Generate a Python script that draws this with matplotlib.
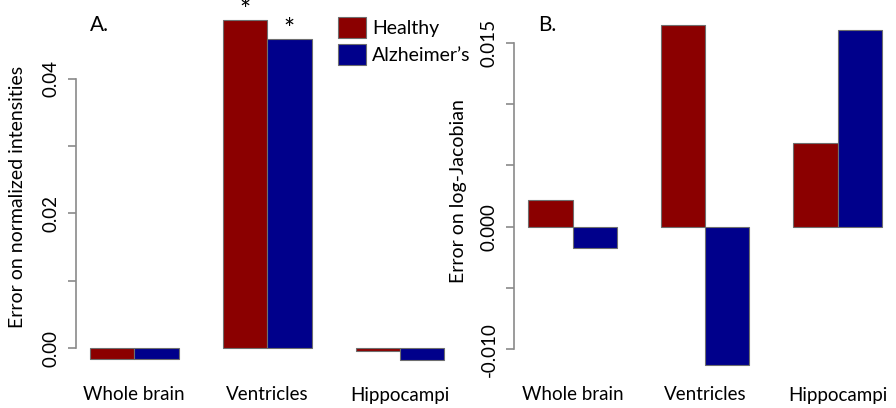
import numpy as np
import matplotlib
matplotlib.use("Agg")
import matplotlib.pyplot as plt
from matplotlib.patches import Patch
from matplotlib.transforms import blended_transform_factory

plt.rcParams['font.family'] = ['Lato', 'DejaVu Sans']

regions = ["Whole brain", "Ventricles", "Hippocampi"]
groups = ["Healthy", "Alzheimer\u2019s"]
a_healthy = [-0.0017, 0.0487, -0.0005]
a_alz = [-0.0017, 0.0459, -0.0018]
b_healthy = [0.0022, 0.0164, 0.0068]
b_alz = [-0.0017, -0.0113, 0.0160]
a_star = [False, True, False]
a_star_alz = [False, True, False]
a_ticks = [0.00, 0.01, 0.02, 0.03, 0.04]
a_ticklabels = ["0.00", "", "0.02", "", "0.04"]
b_ticks = [-0.010, -0.005, 0.000, 0.005, 0.010, 0.015]
b_ticklabels = ["-0.010", "", "0.000", "", "", "0.015"]

RED = "#8B0000"
BLUE = "#00008B"
EDGE = "#6e6e6e"
AXC = "#8a8a8a"

W, H = 896, 408
fig = plt.figure(figsize=(W / 100, H / 100), dpi=100)

def fx(px):
    return px / W

def fy(py):
    return 1 - py / H

axA = fig.add_axes([fx(75.8), fy(373.6), fx(458.6 - 75.8), fy(6.8) - fy(373.6)])
axB = fig.add_axes([fx(514.2), fy(378.9), fx(895.9 - 514.2), fy(12.0) - fy(378.9)])

left = np.arange(len(regions)) * 3 + 1

def draw(ax, h, a, ylim, ticks, ticklabels):
    ax.bar(left, h, width=1, align='edge', color=RED, edgecolor=EDGE, linewidth=0.8)
    ax.bar(left + 1, a, width=1, align='edge', color=BLUE, edgecolor=EDGE, linewidth=0.8)
    ax.set_xlim(0.68, 9.32)
    ax.set_ylim(*ylim)
    for s in ['top', 'right', 'bottom']:
        ax.spines[s].set_visible(False)
    ax.spines['left'].set_color(AXC)
    ax.spines['left'].set_linewidth(1.2)
    ax.spines['left'].set_bounds(ticks[0], ticks[-1])
    ax.set_xticks([])
    ax.set_yticks(ticks)
    ax.set_yticklabels(ticklabels, rotation=90, va='center', fontsize=13.5)
    ax.tick_params(axis='y', length=6, width=1.2, color=AXC, pad=6)
    tr = blended_transform_factory(ax.transData, fig.transFigure)
    for i, r in enumerate(regions):
        ax.text(left[i] + 1, fy(395), r, transform=tr, ha='center', va='center', fontsize=13.5)

draw(axA, a_healthy, a_alz, (-0.0038, 0.0507), a_ticks, a_ticklabels)
draw(axB, b_healthy, b_alz, (-0.0124, 0.0175), b_ticks, b_ticklabels)

for i in range(len(regions)):
    if a_star[i]:
        axA.annotate("*", (left[i] + 0.5, a_healthy[i]), xytext=(0, -3), textcoords='offset points',
                     ha='center', va='bottom', fontsize=19, annotation_clip=False)
    if a_star_alz[i]:
        axA.annotate("*", (left[i] + 1.5, a_alz[i]), xytext=(0, -3), textcoords='offset points',
                     ha='center', va='bottom', fontsize=19, annotation_clip=False)

fig.text(fx(18), fy(197), "Error on normalized intensities", rotation=90, ha='center', va='center', fontsize=14)
fig.text(fx(458), fy(191), "Error on log-Jacobian", rotation=90, ha='center', va='center', fontsize=14)
fig.text(fx(90), fy(25), "A.", ha='left', va='center', fontsize=15)
fig.text(fx(538), fy(25), "B.", ha='left', va='center', fontsize=15)

handles = [Patch(facecolor=RED, edgecolor=EDGE, linewidth=0.8),
           Patch(facecolor=BLUE, edgecolor=EDGE, linewidth=0.8)]
fs = 14
fpx = fs * 100 / 72
fig.legend(handles, groups, loc='upper left', bbox_to_anchor=(fx(338), fy(16.7)),
           frameon=False, fontsize=fs, borderpad=0, borderaxespad=0,
           handlelength=28 / fpx, handleheight=25 / fpx, handletextpad=6 / fpx,
           labelspacing=0.3)

fig.savefig("out.png", dpi=100)
